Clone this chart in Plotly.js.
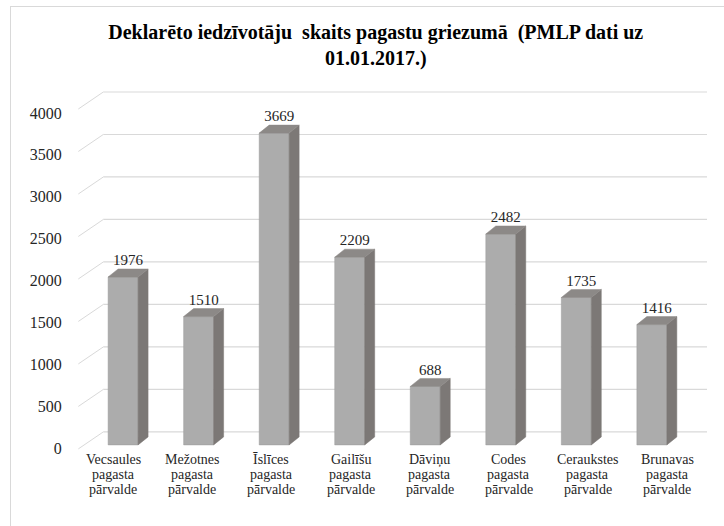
<!DOCTYPE html>
<html>
<head>
<meta charset="utf-8">
<script src="https://cdn.plot.ly/plotly-3.0.1.min.js"></script>
<style>
  html, body { margin: 0; padding: 0; background: #fff; }
  #chart { width: 724px; height: 526px; position: absolute; left: 0; top: 0; }
  #frame { position: absolute; left: 10px; top: 6px; width: 730px; height: 540px;
           border: 1px solid #d9d9d9; pointer-events: none; box-sizing: border-box; }
</style>
</head>
<body>
<div id="chart"></div>
<div id="frame"></div>
<script>
// ---- data ----
const categories = [
  "Vecsaules<br>pagasta<br>pārvalde",
  "Mežotnes<br>pagasta<br>pārvalde",
  "Īslīces<br>pagasta<br>pārvalde",
  "Gailīšu<br>pagasta<br>pārvalde",
  "Dāviņu<br>pagasta<br>pārvalde",
  "Codes<br>pagasta<br>pārvalde",
  "Ceraukstes<br>pagasta<br>pārvalde",
  "Brunavas<br>pagasta<br>pārvalde"
];
const values = [1976, 1510, 3669, 2209, 688, 2482, 1735, 1416];
const yTicks = [0, 500, 1000, 1500, 2000, 2500, 3000, 3500, 4000];
const chartTitle = "Deklarēto iedzīvotāju  skaits pagastu griezumā  (PMLP dati uz<br>01.01.2017.)";

// ---- styling / geometry ----
const serif = "Liberation Serif";
const frontColor = "#acacac";
const sideColor = "#7c7876";
const topColor = "#8c8987";
const pxPerCat = 75.6;          // pixels per category step
const pxPerVal = 0.085;         // pixels per value unit
const barW = 30 / pxPerCat;     // front face width (category units)
const depthX = 10 / pxPerCat;   // 3D depth, x
const depthY = 8 / pxPerVal;    // 3D depth, y
const backY = 13 / pxPerVal;    // back wall offset up
const xr0 = [-0.65, 7.73];
const yr0 = [-60, 4400];
const yr2 = [-24, 4501];        // label axis (slight perspective)

const xs = values.map((v, i) => i);
const traces = [];

traces.push({
  type: "bar", x: xs, y: values, width: barW,
  marker: { color: frontColor, line: { color: "#9a9a9a", width: 0.5 } },
  hoverinfo: "skip", showlegend: false
});

values.forEach((v, i) => {
  const xr = i + barW / 2, xl = i - barW / 2;
  traces.push({
    type: "scatter", mode: "lines", fill: "toself", fillcolor: sideColor,
    x: [xr, xr + depthX, xr + depthX, xr, xr],
    y: [0, depthY, v + depthY, v, 0],
    line: { color: sideColor, width: 0.5 }, hoverinfo: "skip", showlegend: false, cliponaxis: false
  });
  traces.push({
    type: "scatter", mode: "lines", fill: "toself", fillcolor: topColor,
    x: [xl, xr, xr + depthX, xl + depthX, xl],
    y: [v, v, v + depthY, v + depthY, v],
    line: { color: topColor, width: 0.5 }, hoverinfo: "skip", showlegend: false, cliponaxis: false
  });
});

traces.push({
  type: "scatter", mode: "text",
  x: xs.map(i => i + depthX / 2), y: values.map(v => v + depthY),
  text: values.map(String), textposition: "top center",
  textfont: { family: serif, size: 15, color: "#262626" },
  hoverinfo: "skip", showlegend: false, cliponaxis: false
});

// invisible trace that carries the label axis
traces.push({
  type: "scatter", mode: "markers", x: [null], y: [null], yaxis: "y2",
  marker: { opacity: 0 }, hoverinfo: "skip", showlegend: false
});

// back wall gridlines
const shapes = [];
const xFront = -0.5 - 7 / pxPerCat;
const xBack = -0.5 + 18 / pxPerCat;
const xEnd = xr0[1];
yTicks.forEach(t => {
  shapes.push({
    type: "line", layer: "below", xref: "x", yref: "y",
    x0: xFront, x1: xBack, y0: t - 4 / pxPerVal, y1: t + backY,
    line: { color: "#d9d9d9", width: 1 }
  });
  shapes.push({
    type: "line", layer: "below", xref: "x", yref: "y",
    x0: xBack, x1: xEnd, y0: t + backY, y1: t + backY,
    line: { color: "#d9d9d9", width: 1.2 }
  });
});

// category labels (one annotation per line, slight perspective shift)
const annotations = [];
categories.forEach((c, i) => {
  c.split("<br>").forEach((line, k) => {
    annotations.push({
      x: i, y: 0, xref: "x", yref: "y", text: line, showarrow: false,
      xanchor: "center", yanchor: "middle",
      xshift: -10 + 3.6 * i, yshift: -15 - 15 * k,
      font: { family: serif, size: 14, color: "#262626" }
    });
  });
});

const layout = {
  width: 724, height: 526,
  margin: { l: 74, r: 17, t: 71, b: 76 },
  paper_bgcolor: "#ffffff", plot_bgcolor: "rgba(0,0,0,0)",
  font: { family: serif },
  title: {
    text: chartTitle, xref: "container", yref: "container",
    x: 0.519, xanchor: "center", y: 0.926, yanchor: "top",
    font: { family: serif, size: 20, color: "#000000", weight: "bold" }
  },
  xaxis: {
    range: xr0, showticklabels: false, showgrid: false, zeroline: false, showline: false,
    ticks: "", fixedrange: true
  },
  yaxis: {
    range: yr0, showticklabels: false, showgrid: false, zeroline: false, showline: false,
    ticks: "", fixedrange: true
  },
  yaxis2: {
    overlaying: "y", side: "left", anchor: "x",
    range: yr2, tickmode: "array", tickvals: yTicks, ticktext: yTicks.map(String),
    showgrid: false, zeroline: false, showline: false,
    ticks: "outside", ticklen: 8, tickcolor: "rgba(0,0,0,0)",
    tickfont: { family: serif, size: 16, color: "#262626" }, fixedrange: true
  },
  shapes: shapes,
  annotations: annotations,
  showlegend: false
};

Plotly.newPlot("chart", traces, layout, { displayModeBar: false, staticPlot: true });
</script>
</body>
</html>
